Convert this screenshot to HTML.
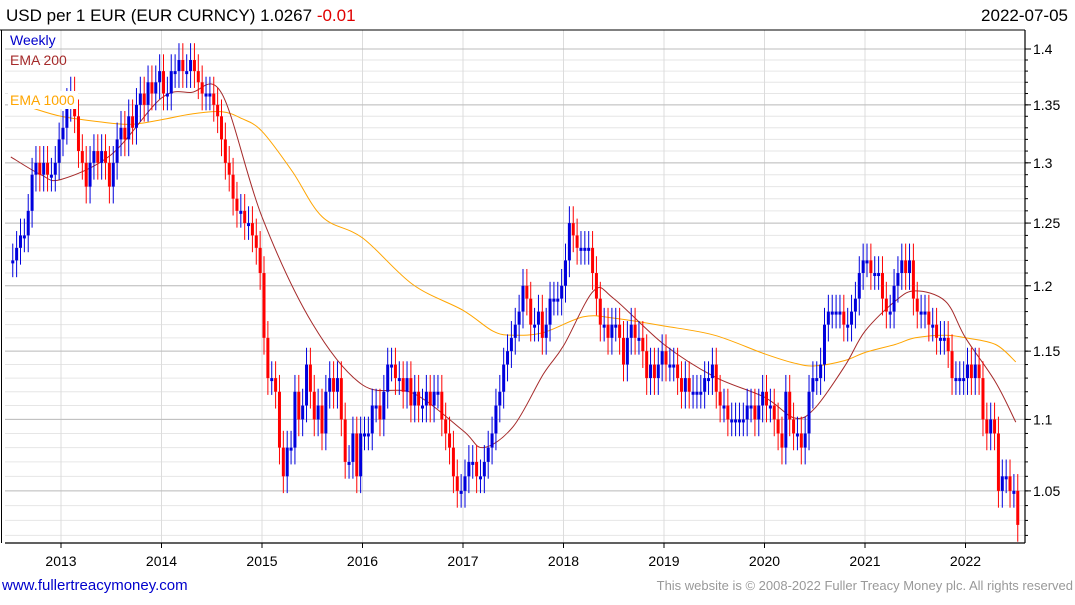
<!DOCTYPE html>
<html><head><meta charset="utf-8">
<style>
body{margin:0;background:#fff;width:1075px;height:600px;overflow:hidden;font-family:"Liberation Sans",sans-serif;}
svg text{font-family:"Liberation Sans",sans-serif;}
</style></head>
<body>
<svg id="chart" width="1075" height="600" xmlns="http://www.w3.org/2000/svg">
<g id="grid"></g>
<g id="ema"></g>
<g id="bars"></g>
<g id="axes"></g>
<rect x="8" y="91" width="70" height="18" fill="#fff"/>
<text x="6" y="21" font-size="17" fill="#000">USD per 1 EUR (EUR CURNCY) 1.0267 <tspan fill="#e00000">-0.01</tspan></text>
<text x="1068" y="21" font-size="17" fill="#000" text-anchor="end">2022-07-05</text>
<text x="10" y="45" font-size="14" fill="#0000cc">Weekly</text>
<text x="10" y="65" font-size="14" fill="#a52a2a">EMA 200</text>
<text x="10" y="105" font-size="14" fill="#ffa500">EMA 1000</text>
<text x="2" y="590" font-size="15" fill="#0000cc">www.fullertreacymoney.com</text>
<text x="1073" y="590" font-size="13" fill="#999" text-anchor="end">This website is © 2008-2022 Fuller Treacy Money plc. All rights reserved</text>
</svg>
<script>
const closes = [
1.22,1.23,1.24,1.24,1.26,1.29,1.30,1.29,1.30,1.29,1.29,1.30,1.32,
1.33,1.35,1.36,1.34,1.31,1.30,1.28,1.30,1.31,1.30,1.31,1.30,1.28,1.30,1.32,1.33,1.32,1.34,1.33,1.35,1.36,1.35,1.37,1.36,1.37,1.38,
1.36,1.36,1.38,1.38,1.39,1.38,1.38,1.39,1.38,1.37,1.36,1.36,1.36,1.35,1.34,1.32,1.30,1.29,1.27,1.26,1.26,1.25,1.25,1.24,1.23,1.21,
1.16,1.13,1.13,1.12,1.08,1.06,1.08,1.08,1.12,1.10,1.11,1.14,1.12,1.10,1.11,1.09,1.12,1.13,1.12,1.13,1.10,1.07,1.07,1.09,1.06,1.09,
1.09,1.09,1.11,1.11,1.10,1.12,1.14,1.14,1.13,1.13,1.12,1.13,1.11,1.12,1.11,1.11,1.12,1.11,1.12,1.12,1.10,1.09,1.08,1.06,1.05,1.05,
1.06,1.07,1.07,1.06,1.06,1.07,1.08,1.09,1.11,1.12,1.14,1.15,1.16,1.17,1.18,1.20,1.19,1.17,1.17,1.18,1.16,1.17,1.19,1.19,1.19,1.20,
1.22,1.25,1.24,1.23,1.23,1.23,1.23,1.21,1.19,1.17,1.17,1.16,1.17,1.17,1.16,1.14,1.16,1.17,1.16,1.16,1.15,1.13,1.14,1.13,1.14,1.15,
1.14,1.14,1.14,1.13,1.12,1.13,1.12,1.12,1.12,1.12,1.13,1.13,1.14,1.12,1.11,1.11,1.10,1.10,1.10,1.10,1.10,1.11,1.11,1.10,1.11,1.12,
1.11,1.11,1.10,1.09,1.08,1.12,1.10,1.09,1.09,1.08,1.09,1.12,1.13,1.13,1.14,1.17,1.18,1.18,1.18,1.18,1.17,1.17,1.18,1.19,1.21,1.22,
1.22,1.21,1.21,1.21,1.19,1.18,1.18,1.20,1.21,1.22,1.21,1.22,1.19,1.18,1.18,1.18,1.17,1.17,1.16,1.16,1.16,1.15,1.13,1.13,1.13,1.13,
1.14,1.13,1.14,1.13,1.10,1.09,1.10,1.09,1.05,1.06,1.06,1.05,1.05,1.027];
const startTime = 2012.52;
const emaTimes = [2012.5,2012.8,2013.0,2013.5,2014.0,2014.3,2014.6,2015.0,2015.5,2016.0,2016.5,2017.0,2017.2,2017.5,2017.8,2018.0,2018.3,2018.5,2019.0,2019.5,2020.0,2020.3,2020.5,2020.8,2021.0,2021.3,2021.5,2021.8,2022.0,2022.3,2022.5];
const ema200 = [1.305,1.29,1.286,1.307,1.356,1.361,1.36,1.255,1.171,1.125,1.119,1.092,1.08,1.095,1.133,1.154,1.196,1.19,1.155,1.131,1.116,1.101,1.108,1.139,1.165,1.188,1.196,1.188,1.16,1.127,1.098];
const ema1000Times = [2012.72,2013.0,2013.4,2013.7,2014.0,2014.3,2014.6,2014.8,2015.0,2015.3,2015.6,2016.0,2016.5,2017.0,2017.3,2017.5,2017.8,2018.2,2018.5,2019.0,2019.5,2020.0,2020.3,2020.5,2020.8,2021.0,2021.3,2021.5,2021.8,2022.0,2022.3,2022.5];
const ema1000 = [1.347,1.34,1.335,1.333,1.337,1.342,1.344,1.338,1.327,1.293,1.255,1.238,1.201,1.181,1.165,1.162,1.164,1.176,1.175,1.169,1.162,1.148,1.141,1.139,1.143,1.149,1.155,1.16,1.162,1.16,1.155,1.142];
const yTicks = [1.05,1.1,1.15,1.2,1.25,1.3,1.35,1.4];
const yearTicks = [2013,2014,2015,2016,2017,2018,2019,2020,2021,2022];

const NS="http://www.w3.org/2000/svg";
const L=5,R=1025,T=30,B=543;
function xOf(t){return 61+(t-2013)*100.5;}
function yOf(p){return 49+(Math.log(1.4)-Math.log(p))*1536;}
function mk(tag,attrs,parent){const e=document.createElementNS(NS,tag);for(const k in attrs)e.setAttribute(k,attrs[k]);parent.appendChild(e);return e;}
const grid=document.getElementById('grid'),axes=document.getElementById('axes'),bars=document.getElementById('bars'),ema=document.getElementById('ema');
for(let v=1.02;v<=1.405;v+=0.01){const y=yOf(v);if(y<T||y>B)continue;
 const ln=mk('line',{x1:L,x2:R,y1:y,y2:y,stroke:'#e6e6e6','stroke-width':1},grid);
 
 
 mk('line',{x1:R,x2:R+3,y1:y,y2:y,stroke:'#000'},axes);}
yearTicks.forEach(yr=>{const x=xOf(yr);
 const ln=mk('line',{x1:x,x2:x,y1:T,y2:B,stroke:'#dcdcdc','stroke-width':1},grid);
 
 
 mk('line',{x1:x,x2:x,y1:B,y2:B+5,stroke:'#000'},axes);
 const t=mk('text',{x:x,y:566,'font-size':14,'text-anchor':'middle',fill:'#000'},axes);t.textContent=yr;
 
 });
yTicks.forEach(v=>{const y=yOf(v);
 const ln=mk('line',{x1:L,x2:R,y1:y,y2:y,stroke:'#bdbdbd','stroke-width':1},grid);
 
 
 mk('line',{x1:R,x2:R+6,y1:y,y2:y,stroke:'#000'},axes);
 const t=mk('text',{x:1033,y:y+5,'font-size':14,fill:'#000'},axes);t.textContent=String(v);
 
 });
mk('line',{x1:R,x2:R,y1:T,y2:B,stroke:'#000','stroke-width':1.2},axes);
mk('line',{x1:L,x2:R,y1:B,y2:B,stroke:'#000','stroke-width':1.2},axes);
mk('line',{x1:1.5,x2:1.5,y1:T,y2:B,stroke:'#000','stroke-width':1},axes);
mk('line',{x1:0,x2:R,y1:T,y2:T,stroke:'#000','stroke-width':1},axes);
function smoothPath(ts,vs){const P=ts.map((t,i)=>[xOf(t),yOf(vs[i])]);let d='M'+P[0][0].toFixed(1)+','+P[0][1].toFixed(1);
 for(let i=0;i<P.length-1;i++){const p0=P[Math.max(0,i-1)],p1=P[i],p2=P[i+1],p3=P[Math.min(P.length-1,i+2)];
  const c1=[p1[0]+(p2[0]-p0[0])/6,p1[1]+(p2[1]-p0[1])/6],c2=[p2[0]-(p3[0]-p1[0])/6,p2[1]-(p3[1]-p1[1])/6];
  d+=' C'+c1.map(v=>v.toFixed(1)).join(',')+' '+c2.map(v=>v.toFixed(1)).join(',')+' '+p2.map(v=>v.toFixed(1)).join(',');}
 return d;}
function line(ts,vs,color,name){
 const p=mk('path',{d:smoothPath(ts,vs),fill:'none',stroke:color,'stroke-width':1},ema);
 
 }
line(ema1000Times,ema1000,'#ffa500','ema-1000-line');
line(emaTimes,ema200,'#a52a2a','ema-200-line');
closes.forEach((c,i)=>{const o=i>0?closes[i-1]:c;const x=xOf(startTime+i/26);
 const up=c>=o;const col=up?'#0000dd':'#ff0000';
 const hi=Math.max(o,c)*1.011,lo=Math.min(o,c)/1.011;
 const w=mk('line',{x1:x,x2:x,y1:yOf(hi),y2:yOf(lo),stroke:col,'stroke-width':1},bars);
 
 
 const y1=yOf(Math.max(o,c)),y2=yOf(Math.min(o,c));
 const r=mk('rect',{x:x-1.5,y:y1,width:3,height:Math.max(3,y2-y1),fill:col},bars);
 
 });
</script>
</body></html>
